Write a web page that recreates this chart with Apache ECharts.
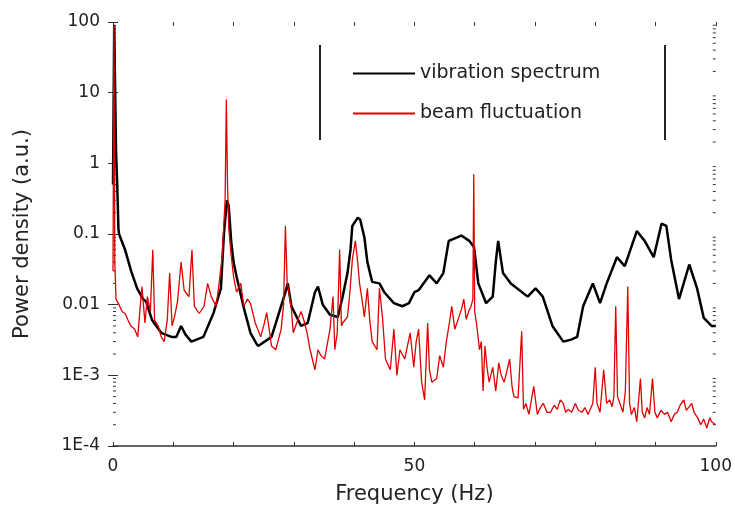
<!DOCTYPE html>
<html lang="en">

<head>
  <meta charset="UTF-8">
  <title>Power density spectrum</title>
  <script src="https://cdn.jsdelivr.net/npm/echarts@6/dist/echarts.min.js"></script>
</head>

<body style="margin:0">
  <div id="main" style="width:735px;height:511px"></div>
  <script>
    // [frequency Hz, power density a.u.]
    var vibration = [[0, 0.5], [0.2, 90], [0.5, 1.5], [0.7, 0.5], [0.9, 0.12], [1, 0.1], [2, 0.06], [3, 0.03], [4, 0.017], [5, 0.012], [5.5, 0.011],
      [6.5, 0.006], [8, 0.004], [9.7, 0.0035], [10.5, 0.0035], [11.3, 0.005], [12, 0.0038], [13, 0.003], [15, 0.0035], [16.7, 0.0077],
      [17.9, 0.017], [18.4, 0.1], [18.9, 0.3], [19.2, 0.25], [19.6, 0.08], [20, 0.04], [20.5, 0.025], [21.7, 0.009], [22.8, 0.004],
      [23.8, 0.0028], [24.1, 0.0026], [26.3, 0.0035], [27.4, 0.007], [28.6, 0.015], [29, 0.02], [29.6, 0.0095], [31.2, 0.005],
      [32.3, 0.0055], [33.5, 0.015], [34, 0.018], [34.8, 0.01], [36, 0.0072], [37.3, 0.0067], [38.1, 0.013], [38.9, 0.028],
      [39.4, 0.06], [39.7, 0.13], [40.6, 0.17], [41, 0.16], [41.7, 0.09], [42.2, 0.04], [43, 0.021], [44.2, 0.02], [45, 0.015],
      [46.6, 0.0105], [48, 0.0095], [49.1, 0.0105], [50, 0.015], [50.7, 0.016], [52.5, 0.026], [53.7, 0.02], [54.8, 0.028],
      [55.7, 0.08], [57.8, 0.095], [59.1, 0.08], [59.9, 0.065], [60.6, 0.02], [61.9, 0.0105], [63, 0.013], [63.5, 0.04],
      [63.9, 0.08], [64.7, 0.028], [66, 0.02], [68.8, 0.013], [70.1, 0.017], [71.3, 0.013], [72.9, 0.005], [74.7, 0.003],
      [76, 0.0032], [77, 0.0035], [78, 0.0095], [79.6, 0.02], [80.8, 0.0105], [81.9, 0.02], [83.6, 0.047], [84.9, 0.035],
      [86.9, 0.11], [88.2, 0.08], [89.7, 0.047], [91, 0.14], [91.8, 0.13], [92.6, 0.043], [93.9, 0.012], [95.6, 0.037],
      [96.9, 0.017], [98, 0.0065], [99.3, 0.005], [100, 0.005]]

    var beam = [[0, 0.03], [0.15, 90], [0.3, 0.04], [0.5, 0.012], [1, 0.01], [1.5, 0.008], [2, 0.0075], [2.5, 0.006], [3, 0.005],
      [3.6, 0.0045], [4.1, 0.0035], [4.8, 0.018], [5.3, 0.0055], [5.7, 0.013], [6.2, 0.008], [6.6, 0.06], [6.9, 0.006], [7.5, 0.005],
      [8, 0.0035], [8.5, 0.003], [9, 0.006], [9.4, 0.028], [9.8, 0.005], [10.2, 0.0067], [10.7, 0.011], [11.3, 0.04], [11.8, 0.016],
      [12.6, 0.013], [13.1, 0.06], [13.5, 0.0095], [14.3, 0.0075], [15.1, 0.0095], [15.7, 0.02], [16.3, 0.013], [17.1, 0.0095],
      [17.6, 0.02], [18.1, 0.047], [18.6, 0.3], [18.8, 8], [19, 0.5], [19.2, 0.12], [19.6, 0.05], [20, 0.025], [20.5, 0.015],
      [21.2, 0.02], [21.7, 0.0095], [22.3, 0.012], [22.8, 0.0105], [23.6, 0.0055], [24.5, 0.0035], [25, 0.005], [25.5, 0.0077],
      [26, 0.004], [26.3, 0.0026], [27, 0.0023], [27.9, 0.0045], [28.3, 0.01], [28.6, 0.13], [28.9, 0.02], [29.1, 0.017],
      [29.6, 0.0085], [29.9, 0.004], [30.7, 0.0062], [31.2, 0.008], [31.8, 0.0055], [32.2, 0.004], [32.7, 0.0023], [33.5, 0.0012],
      [34, 0.0023], [34.5, 0.0019], [35.1, 0.0017], [36, 0.0045], [36.5, 0.013], [36.8, 0.0023], [37.2, 0.004], [37.6, 0.06],
      [37.9, 0.005], [38.1, 0.0055], [38.9, 0.0067], [39.3, 0.015], [39.7, 0.043], [40.2, 0.08], [40.6, 0.04], [40.9, 0.02],
      [41.3, 0.012], [41.7, 0.0067], [42.2, 0.017], [42.6, 0.006], [43, 0.003], [43.8, 0.0023], [44.2, 0.017], [44.7, 0.0067],
      [45.2, 0.0017], [46, 0.0012], [46.6, 0.0045], [47.1, 0.001], [47.6, 0.0023], [48.4, 0.0017], [49.3, 0.004], [49.9, 0.0013],
      [50.3, 0.003], [50.7, 0.0045], [51.2, 0.0008], [51.7, 0.00045], [52.2, 0.0055], [52.5, 0.0012], [52.9, 0.0008], [53.7, 0.0009],
      [54.2, 0.0019], [54.8, 0.0013], [55.3, 0.003], [55.8, 0.0055], [56.2, 0.0095], [56.7, 0.0045], [57.2, 0.006], [57.8, 0.0085],
      [58.2, 0.012], [58.6, 0.0062], [59, 0.008], [59.4, 0.0095], [59.7, 0.012], [59.85, 0.7], [60, 0.008], [60.3, 0.0055],
      [60.8, 0.0023], [61.1, 0.003], [61.4, 0.0006], [61.7, 0.0026], [62.1, 0.0012], [62.4, 0.0008], [63, 0.0013], [63.5, 0.0006],
      [64, 0.0015], [64.4, 0.001], [64.9, 0.0008], [65.4, 0.0012], [65.8, 0.0017], [66.2, 0.0007], [66.5, 0.0005], [67.2, 0.00048],
      [67.8, 0.0042], [68.1, 0.00033], [68.5, 0.0004], [69, 0.00028], [69.8, 0.0007], [70.4, 0.00028], [70.9, 0.00035], [71.4, 0.0004],
      [72, 0.0003], [72.6, 0.0003], [73.2, 0.00038], [73.7, 0.00033], [74.2, 0.00045], [74.7, 0.0004], [75.1, 0.0003], [75.5, 0.00033],
      [76.1, 0.0003], [76.7, 0.0004], [77.2, 0.00032], [77.8, 0.0003], [78.3, 0.00035], [78.8, 0.00028], [79.3, 0.00035], [79.6, 0.0004],
      [80, 0.0013], [80.3, 0.0004], [80.8, 0.0003], [81.4, 0.0012], [81.9, 0.0004], [82.4, 0.00045], [82.8, 0.00036], [83.1, 0.0005],
      [83.4, 0.0095], [83.7, 0.0005], [84.1, 0.0004], [84.6, 0.0003], [85, 0.0006], [85.4, 0.018], [85.7, 0.0004], [86, 0.00028],
      [86.5, 0.00035], [86.9, 0.00022], [87.5, 0.0009], [87.8, 0.0003], [88.2, 0.00025], [88.6, 0.00035], [89, 0.00028], [89.5, 0.0009],
      [89.9, 0.0003], [90.3, 0.00025], [90.9, 0.00032], [91.5, 0.00028], [92, 0.0003], [92.6, 0.00022], [93.1, 0.00028], [93.6, 0.0003],
      [94.1, 0.00038], [94.7, 0.00045], [95.1, 0.00032], [95.6, 0.00036], [96, 0.0004], [96.4, 0.0003], [97, 0.00025], [97.5, 0.0002],
      [98, 0.00024], [98.5, 0.00018], [99, 0.00025], [99.3, 0.00022], [100, 0.0002]]

    var yTickVals = [1e-4, 1e-3, 0.01, 0.1, 1, 10, 100]
    var yTickLabels = ['1E-4', '1E-3', '0.01', '0.1', '1', '10', '100']
    var xLabelVals = [0, 50, 100]
    // log minor ticks 2..9 x 10^k
    var minorTickVals = []
    for (var k = -4; k < 2; k++) {
      for (var m = 2; m < 10; m++) {
        minorTickVals.push([0, m * Math.pow(10, k)])
      }
    }

    var txt = '#222'
    var font = '"DejaVu Sans", sans-serif'
    var lineIcon = 'path://M0,0 L62,0 L62,2 L0,2 Z'
    var chart = echarts.init(document.getElementById('main'))

    var option = {
      animation: false,
      backgroundColor: '#fff',
      textStyle: { fontFamily: font },
      grid: { left: 113, right: 13, top: 22, bottom: 65 },
      legend: {
        data: ['vibration spectrum', 'beam fluctuation'],
        orient: 'vertical',
        left: 353,
        top: 64,
        padding: 0,
        icon: lineIcon,
        itemWidth: 62,
        itemHeight: 14,
        itemGap: 21,
        textStyle: { fontSize: 19, color: txt, fontFamily: font }
      },
      graphic: [
        { type: 'line', shape: { x1: 320, y1: 45, x2: 320, y2: 140 }, style: { stroke: '#222', lineWidth: 2 } },
        { type: 'line', shape: { x1: 665, y1: 45, x2: 665, y2: 140 }, style: { stroke: '#222', lineWidth: 2 } }
      ],
      xAxis: [{
        type: 'value', min: 0, max: 100, interval: 10,
        name: 'Frequency (Hz)', nameLocation: 'middle', nameGap: 38,
        nameTextStyle: { fontSize: 21, color: txt, fontFamily: font },
        axisLine: { show: true, lineStyle: { color: '#333', width: 1.5 } },
        axisTick: { inside: true, length: 4, lineStyle: { color: '#333' } },
        axisLabel: {
          fontSize: 17, color: txt, margin: 12, fontFamily: font,
          formatter: function (v) { return xLabelVals.indexOf(v) >= 0 ? String(v) : '' }
        },
        splitLine: { show: false }
      }, {
        type: 'value', min: 0, max: 100, interval: 10, position: 'top',
        axisLine: { show: false },
        axisTick: { show: true, inside: true, length: 4, lineStyle: { color: '#333' } },
        axisLabel: { show: false },
        splitLine: { show: false }
      }],
      yAxis: [{
        type: 'log', logBase: 10, min: 1e-4, max: 100,
        name: 'Power density (a.u.)', nameLocation: 'middle', nameGap: 80,
        nameTextStyle: { fontSize: 21, color: txt, fontFamily: font },
        axisLine: { show: false },
        axisTick: { show: true, inside: true, length: 5, lineStyle: { color: '#333' } },
        axisLabel: {
          fontSize: 17, color: txt, margin: 13, fontFamily: font,
          formatter: function (v) {
            for (var i = 0; i < yTickVals.length; i++) {
              if (Math.abs(Math.log10(v) - Math.log10(yTickVals[i])) < 1e-6) return yTickLabels[i]
            }
            return ''
          }
        },
        splitLine: { show: false }
      }, {
        type: 'log', logBase: 10, min: 1e-4, max: 100, position: 'right',
        axisLine: { show: false },
        axisTick: { show: true, inside: true, length: 5, lineStyle: { color: '#333' } },
        axisLabel: { show: false },
        splitLine: { show: false }
      }],
      series: [
        {
          name: 'vibration spectrum',
          type: 'line',
          data: vibration,
          symbol: 'none',
          z: 2,
          lineStyle: { color: '#000', width: 2.5 },
          itemStyle: { color: '#000' }
        },
        {
          name: 'beam fluctuation',
          type: 'line',
          data: beam,
          symbol: 'none',
          z: 3,
          lineStyle: { color: '#e00000', width: 1.3 },
          itemStyle: { color: '#e00000' }
        },
        {
          // minor log ticks on the left and right edges
          type: 'custom',
          data: minorTickVals,
          silent: true,
          renderItem: function (params, api) {
            var l = api.coord([0, api.value(1)])
            var r = api.coord([100, api.value(1)])
            var st = { stroke: '#333', lineWidth: 1 }
            return {
              type: 'group',
              children: [
                { type: 'line', shape: { x1: l[0], y1: l[1], x2: l[0] + 3, y2: l[1] }, style: st },
                { type: 'line', shape: { x1: r[0], y1: r[1], x2: r[0] - 3, y2: r[1] }, style: st }
              ]
            }
          }
        }
      ]
    }
    chart.setOption(option)
  </script>
</body>

</html>
